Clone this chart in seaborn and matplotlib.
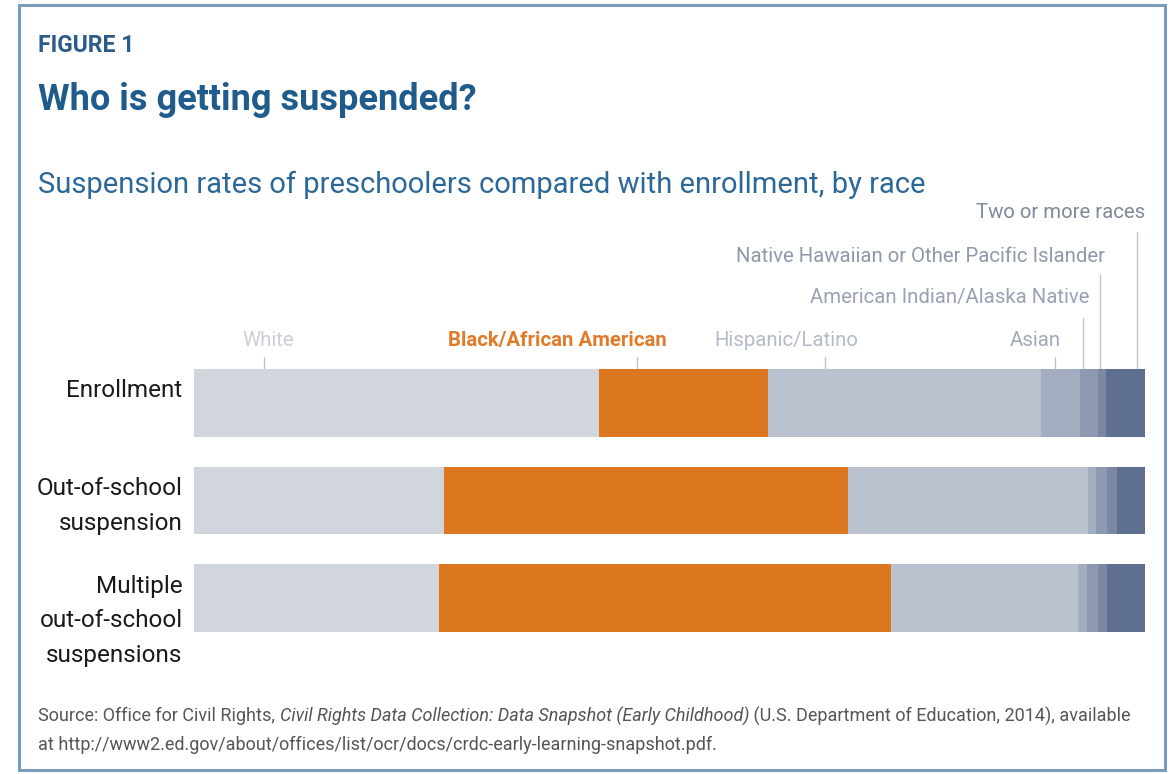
import matplotlib
matplotlib.use("Agg")
import matplotlib.pyplot as plt
import matplotlib.transforms as mtransforms
from matplotlib.patches import Rectangle
import seaborn as sns
import pandas as pd

# ---------------- data ----------------
categories = ["Enrollment", "Out-of-school\nsuspension", "Multiple\nout-of-school\nsuspensions"]
races = ["White", "Black/African American", "Hispanic/Latino", "Asian",
         "American Indian/Alaska Native", "Native Hawaiian or Other Pacific Islander",
         "Two or more races"]
white = [42.6, 26.3, 25.8]
black = [17.8, 42.5, 47.5]
hispanic = [28.7, 25.2, 19.7]
asian = [4.1, 0.8, 0.9]
aian = [1.9, 1.2, 1.2]
nhpi = [0.8, 1.1, 0.9]
two_more = [4.1, 2.9, 4.0]

series = [white, black, hispanic, asian, aian, nhpi, two_more]
colors = ["#d0d5de", "#dc761f", "#bac2d0", "#a3adc0", "#8d99b0", "#7a88a3", "#5f6f90"]

rows = []
for ci, cat in enumerate(categories):
    cum = 0.0
    for race, vals in zip(races, series):
        cum += vals[ci]
        rows.append({"category": cat, "race": race, "value": vals[ci], "cum": cum})
df = pd.DataFrame(rows)

sns.set_theme(style="white")
FONTS = ["Roboto", "DejaVu Sans"]
plt.rcParams["font.family"] = FONTS

W, H = 1175, 774
fig = plt.figure(figsize=(W / 100, H / 100), dpi=100)
fig.patch.set_facecolor("white")

def fx(px):
    return px / W

def fy(py):
    return 1 - py / H

ax = fig.add_axes([fx(194), fy(647), fx(1145) - fx(194), (647 - 354) / H])

for race, col in reversed(list(zip(races, colors))):
    sub = df[df["race"] == race]
    sns.barplot(data=sub, x="cum", y="category", order=categories, color=col,
                saturation=1, width=0.69, orient="h", errorbar=None, ax=ax,
                linewidth=0)

ax.set_xlim(0, 100)
ax.set_ylim(2.5, -0.5)
ax.axis("off")

# category labels
for i, cat in enumerate(categories):
    ax.text(-1.2, i - 0.24, cat, ha="right", va="top", fontsize=17.5,
            color="#1a1a1a", linespacing=1.65)

# race labels with leader lines
blend = mtransforms.blended_transform_factory(ax.transData, fig.transFigure)
label_specs = [
    # text, text_x, ha, text_ypx, line_x, line_top_px, color, weight
    ("White", 7.8, "center", 340, 7.4, 357, "#c9ced8", "normal"),
    ("Black/African American", 38.2, "center", 340, 46.6, 357, "#e07b2a", "bold"),
    ("Hispanic/Latino", 62.3, "center", 340, 66.4, 357, "#b3bbc9", "normal"),
    ("Asian", 88.5, "center", 340, 90.5, 357, "#a0a9ba", "normal"),
    ("American Indian/Alaska Native", 94.2, "right", 298, 93.5, 318, "#98a2b4", "normal"),
    ("Native Hawaiian or Other Pacific Islander", 95.8, "right", 256, 95.3, 275, "#8f99ab", "normal"),
    ("Two or more races", 100.0, "right", 213, 99.2, 232, "#7f899b", "normal"),
]
for txt, tx, ha, ty, lx, ltop, col, wt in label_specs:
    ax.text(tx, fy(ty), txt, transform=blend, ha=ha, va="center", fontsize=14.7,
            color=col, fontweight=wt)
    ax.plot([lx, lx], [fy(ltop), fy(370)], transform=blend, color="#bcc3cf",
            lw=1.0, clip_on=False, zorder=0)

# titles
fig.text(fx(38), fy(46), "FIGURE 1", ha="left", va="center", fontsize=16.5,
         fontweight="bold", color="#2c5d8a")
fig.text(fx(38), fy(100), "Who is getting suspended?", ha="left", va="center",
         fontsize=26, fontweight="bold", color="#1f5b8b")
fig.text(fx(38), fy(185), "Suspension rates of preschoolers compared with enrollment, by race",
         ha="left", va="center", fontsize=21, color="#2b6898")

# source note with italic part
fig.canvas.draw()
renderer = fig.canvas.get_renderer()
src_parts = [
    ("Source: Office for Civil Rights, ", "normal"),
    ("Civil Rights Data Collection: Data Snapshot (Early Childhood)", "italic"),
    (" (U.S. Department of Education, 2014), available", "normal"),
]
xcur = 38
for part, style in src_parts:
    t = fig.text(fx(xcur), fy(716), part, ha="left", va="center", fontsize=13.0,
                 color="#555555", style=style)
    bb = t.get_window_extent(renderer=renderer)
    xcur += bb.width
fig.text(fx(38), fy(745), "at http://www2.ed.gov/about/offices/list/ocr/docs/crdc-early-learning-snapshot.pdf.",
         ha="left", va="center", fontsize=13.0, color="#555555")

# frame
fig.patches.append(Rectangle((fx(19), fy(770)), fx(1165) - fx(19), fy(5) - fy(770),
                             transform=fig.transFigure, fill=False,
                             edgecolor="#7c9dbd", linewidth=2.2))

fig.savefig("out.png", dpi=100, facecolor="white")
